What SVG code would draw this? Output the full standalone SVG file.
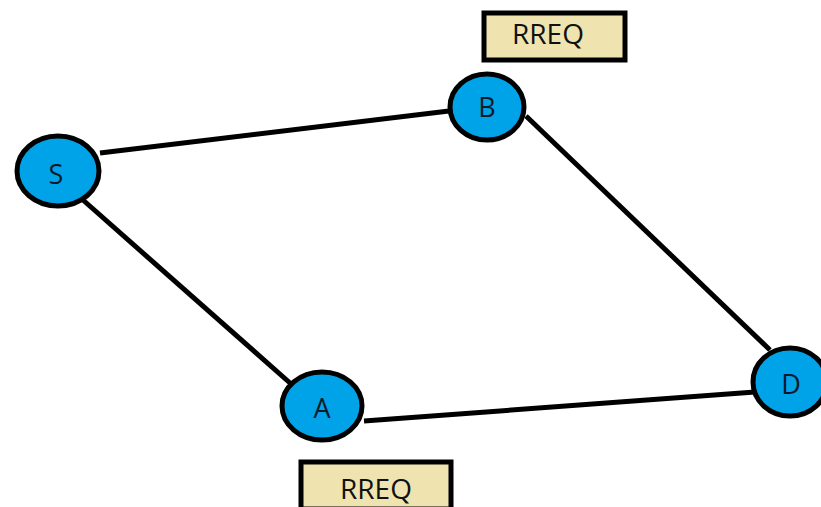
<svg xmlns="http://www.w3.org/2000/svg" width="821" height="507" viewBox="0 0 821 507">
<style>
.node{fill:#00A2E8;stroke:#000;stroke-width:5}
.lbl{font-family:"Open Sans","Liberation Sans",sans-serif;font-size:27px;fill:#0a1a2a;text-anchor:middle;dominant-baseline:central}
.box{fill:#EFE4B0;stroke:#000;stroke-width:5}
.boxt{font-family:"Open Sans","Liberation Sans",sans-serif;font-size:28px;fill:#111;text-anchor:middle}
.edge{stroke:#000;stroke-width:5;fill:none}
</style>
<rect width="821" height="507" fill="#fff"/>
<g id="connectors">
<line class="edge" x1="100" y1="153" x2="449" y2="111"/>
<line class="edge" x1="83" y1="200" x2="290" y2="383"/>
<line class="edge" x1="526" y1="116" x2="770" y2="350"/>
<line class="edge" x1="364" y1="421" x2="755" y2="392"/>
</g>
<g id="S"><ellipse class="node" cx="58" cy="171" rx="41" ry="35"/><text class="lbl" x="56" y="173">S</text></g>
<g id="B"><ellipse class="node" cx="487" cy="107" rx="37" ry="33"/><text class="lbl" x="487" y="106">B</text></g>
<g id="A"><ellipse class="node" cx="322" cy="406" rx="40" ry="34"/><text class="lbl" x="322" y="407">A</text></g>
<g id="D"><ellipse class="node" cx="790" cy="382" rx="37" ry="34"/><text class="lbl" x="791" y="383">D</text></g>
<g id="rreq-top"><rect class="box" x="484" y="13" width="141" height="47"/><text class="boxt" x="548" y="44">RREQ</text></g>
<g id="rreq-bottom"><rect class="box" x="301" y="462" width="150" height="47"/><text class="boxt" x="376" y="499">RREQ</text></g>
</svg>
